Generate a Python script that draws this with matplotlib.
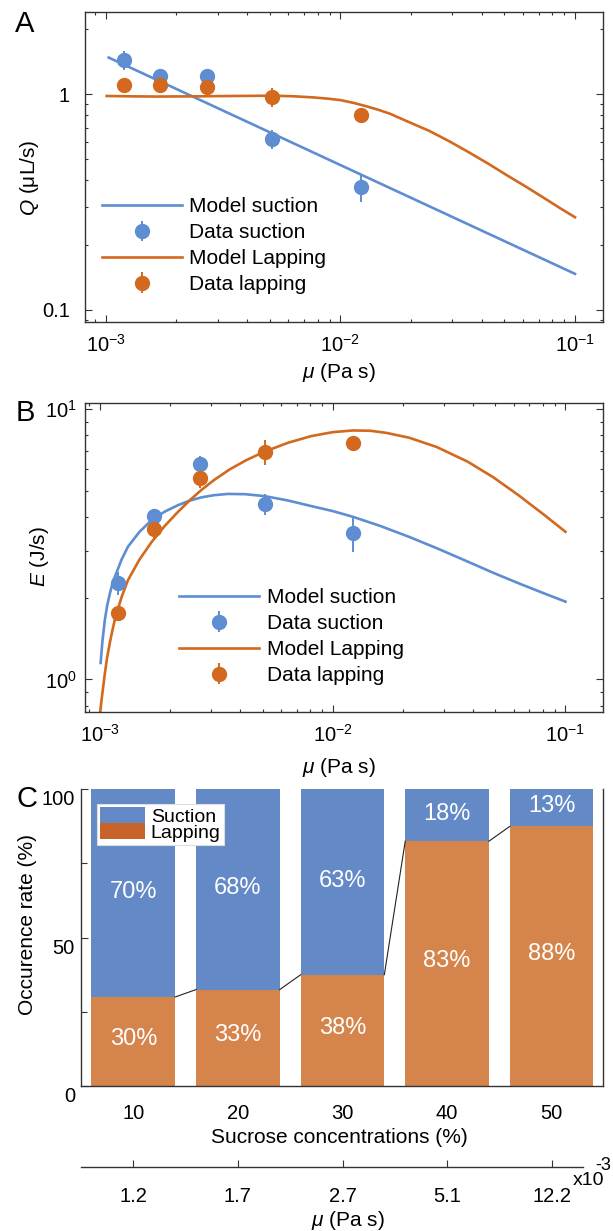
import matplotlib
matplotlib.use("Agg")
import matplotlib.pyplot as plt
import matplotlib.transforms as mtransforms
from matplotlib.patches import Patch
from matplotlib.ticker import NullFormatter, FixedLocator

plt.rcParams['font.family'] = ['Liberation Sans', 'DejaVu Sans']
plt.rcParams['mathtext.fontset'] = 'custom'
plt.rcParams['mathtext.rm'] = 'Liberation Sans'
plt.rcParams['mathtext.it'] = 'Liberation Sans:italic'
plt.rcParams['mathtext.bf'] = 'Liberation Sans:bold'

# ---------------- data ----------------
mu_data = [1.2e-3, 1.7e-3, 2.7e-3, 5.1e-3, 12.2e-3]

# Panel A
Q_suction = [1.44, 1.22, 1.22, 0.62, 0.37]
Q_suction_err = [0.14, 0.05, 0.06, 0.06, 0.055]
Q_lapping = [1.11, 1.10, 1.08, 0.97, 0.80]
Q_lapping_err = [0.03, 0.08, 0.07, 0.10, 0.03]

mu_modelA_suction = [1.03e-3, 0.1]
Q_model_suction = [1.48, 0.147]
mu_modelA_lapping = [1.01e-3, 1.3e-3, 1.63e-3, 2.3e-3, 3.52e-3, 5.16e-3, 6.3e-3, 7.57e-3,
                     8.8e-3, 1.0e-2, 1.14e-2, 1.29e-2, 1.45e-2, 1.63e-2, 1.95e-2, 2.39e-2,
                     2.9e-2, 3.51e-2, 4.25e-2, 5.15e-2, 6.25e-2, 7.56e-2, 8.7e-2, 0.1]
Q_model_lapping = [0.982, 0.978, 0.976, 0.978, 0.982, 0.985, 0.979, 0.968,
                   0.955, 0.940, 0.912, 0.880, 0.848, 0.812, 0.745, 0.677,
                   0.607, 0.540, 0.478, 0.420, 0.370, 0.325, 0.295, 0.269]

# Panel B
E_suction = [2.27, 4.02, 6.27, 4.46, 3.49]
E_suction_err = [0.22, 0.26, 0.42, 0.40, 0.53]
E_lapping = [1.76, 3.60, 5.58, 6.97, 7.52]
E_lapping_err = [0.08, 0.30, 0.47, 0.74, 0.45]

mu_modelB_suction = [1.007e-3, 1.025e-3, 1.05e-3, 1.075e-3, 1.104e-3, 1.13e-3, 1.16e-3,
                     1.24e-3, 1.32e-3, 1.48e-3, 1.67e-3, 1.9e-3, 2.17e-3, 2.45e-3, 2.73e-3,
                     3.1e-3, 3.55e-3, 4.2e-3, 5.1e-3, 6.4e-3, 8.1e-3, 1.0e-2, 1.22e-2,
                     1.6e-2, 2.13e-2, 2.85e-2, 3.8e-2, 4.9e-2, 6.28e-2, 8.0e-2, 0.1]
E_model_suction = [1.15, 1.38, 1.66, 1.88, 2.08, 2.25, 2.40,
                   2.78, 3.10, 3.52, 3.89, 4.18, 4.42, 4.60, 4.72,
                   4.81, 4.86, 4.85, 4.77, 4.60, 4.38, 4.20, 4.00,
                   3.70, 3.37, 3.04, 2.73, 2.48, 2.27, 2.09, 1.94]
mu_modelB_lapping = [1.0e-3, 1.02e-3, 1.05e-3, 1.075e-3, 1.104e-3, 1.13e-3, 1.16e-3,
                     1.24e-3, 1.32e-3, 1.48e-3, 1.67e-3, 1.9e-3, 2.17e-3, 2.45e-3, 2.73e-3,
                     3.1e-3, 3.61e-3, 4.25e-3, 5.06e-3, 6.4e-3, 8.1e-3, 1.0e-2, 1.22e-2,
                     1.45e-2, 1.7e-2, 2.13e-2, 2.8e-2, 3.8e-2, 4.9e-2, 6.28e-2, 8.0e-2, 0.1]
E_model_lapping = [0.74, 0.86, 1.05, 1.21, 1.37, 1.51, 1.67,
                   2.02, 2.33, 2.78, 3.23, 3.70, 4.18, 4.63, 5.03,
                   5.48, 5.99, 6.48, 6.95, 7.51, 7.96, 8.23, 8.35,
                   8.33, 8.18, 7.85, 7.25, 6.40, 5.60, 4.81, 4.10, 3.52]

# Panel C
concentrations = [10, 20, 30, 40, 50]
lapping_rate = [30, 32.5, 37.5, 82.5, 87.5]
suction_rate = [70, 67.5, 62.5, 17.5, 12.5]
suction_labels = ['70%', '68%', '63%', '18%', '13%']
lapping_labels = ['30%', '33%', '38%', '83%', '88%']
mu_tick_labels = ['1.2', '1.7', '2.7', '5.1', '12.2']

# ---------------- style ----------------
BLUE = '#5E8DD2'
ORANGE = '#D2691E'
BAR_BLUE = '#6389C6'
BAR_ORANGE = '#D5854B'
LEG_ORANGE = '#C8642A'
SPINE = '#333333'
FS_TICK = 14.5
FS_LAB = 15
W, H = 613, 1231

fig = plt.figure(figsize=(W / 100, H / 100), dpi=100)


def rect(l, r, t, b):
    return [l / W, (H - b) / H, (r - l) / W, (b - t) / H]


def style_log_axes(ax):
    for s in ax.spines.values():
        s.set_color(SPINE)
        s.set_linewidth(1.0)
    ax.tick_params(which='both', direction='in', top=True, right=True, colors=SPINE,
                   labelcolor='black', labelsize=FS_TICK)
    ax.tick_params(which='major', length=4.8, width=0.8)
    ax.tick_params(which='minor', length=2.4, width=0.8)
    ax.xaxis.set_minor_formatter(NullFormatter())
    ax.yaxis.set_minor_formatter(NullFormatter())


def draw_fit_panel(ax, mu_s, y_s, mu_l, y_l, ys, ys_err, yl, yl_err):
    h1, = ax.plot(mu_s, y_s, color=BLUE, lw=1.9, solid_joinstyle='round')
    h2 = ax.errorbar(mu_data, ys, yerr=ys_err, fmt='o', color=BLUE, ms=10,
                     elinewidth=1.4, capsize=0, zorder=3)
    h3, = ax.plot(mu_l, y_l, color=ORANGE, lw=1.9, solid_joinstyle='round')
    h4 = ax.errorbar(mu_data, yl, yerr=yl_err, fmt='o', color=ORANGE, ms=10,
                     elinewidth=1.4, capsize=0, zorder=3)
    return [h1, h2, h3, h4]


leg_labels = ['Model suction', 'Data suction', 'Model Lapping', 'Data lapping']
xt_labels = [r'$\mathregular{10^{-3}}$', r'$\mathregular{10^{-2}}$', r'$\mathregular{10^{-1}}$']

# ---------------- Panel A ----------------
axA = fig.add_axes(rect(85, 602.7, 11.7, 321.7))
axA.set_xscale('log')
axA.set_yscale('log')
hA = draw_fit_panel(axA, mu_modelA_suction, Q_model_suction, mu_modelA_lapping,
                    Q_model_lapping, Q_suction, Q_suction_err, Q_lapping, Q_lapping_err)
axA.set_xlim(10 ** -3.088, 10 ** -0.882)
axA.set_ylim(0.0882, 2.415)
style_log_axes(axA)
axA.set_xticks([1e-3, 1e-2, 1e-1], labels=xt_labels)
axA.set_yticks([0.1, 1], labels=['0.1', '1'])
axA.tick_params(axis='x', which='major', pad=9)
axA.tick_params(axis='y', which='major', pad=11)
axA.set_xlabel(r'$\mu$ (Pa s)', fontsize=FS_LAB)
axA.xaxis.set_label_coords(0.49, -0.165)
axA.xaxis.label.set_va('center')
axA.set_ylabel(r'$Q$ (μL/s)', fontsize=FS_LAB)
axA.yaxis.set_label_coords(-0.108, 0.465)
axA.yaxis.label.set_va('center')
axA.legend(hA, leg_labels, loc='center left', bbox_to_anchor=(0.032, 0.245), frameon=False,
           fontsize=FS_LAB, handlelength=3.85, handletextpad=0.36,
           labelspacing=0.33, borderpad=0, borderaxespad=0)

# ---------------- Panel B ----------------
axB = fig.add_axes(rect(85, 602.7, 402.7, 711.7))
axB.set_xscale('log')
axB.set_yscale('log')
hB = draw_fit_panel(axB, mu_modelB_suction, E_model_suction, mu_modelB_lapping,
                    E_model_lapping, E_suction, E_suction_err, E_lapping, E_lapping_err)
axB.set_xlim(10 ** -3.064, 10 ** -0.84)
axB.set_ylim(0.759, 10.58)
style_log_axes(axB)
axB.set_xticks([1e-3, 1e-2, 1e-1], labels=xt_labels)
axB.set_yticks([1, 10], labels=[r'$\mathregular{10^{0}}$', r'$\mathregular{10^{1}}$'])
axB.tick_params(axis='x', which='major', pad=9)
axB.tick_params(axis='y', which='major', pad=6)
axB.set_xlabel(r'$\mu$ (Pa s)', fontsize=FS_LAB)
axB.xaxis.set_label_coords(0.49, -0.182)
axB.xaxis.label.set_va('center')
axB.set_ylabel(r'$E$ (J/s)', fontsize=FS_LAB)
axB.yaxis.set_label_coords(-0.087, 0.502)
axB.yaxis.label.set_va('center')
axB.legend(hB, leg_labels, loc='center left', bbox_to_anchor=(0.182, 0.243), frameon=False,
           fontsize=FS_LAB, handlelength=3.85, handletextpad=0.36,
           labelspacing=0.33, borderpad=0, borderaxespad=0)

# ---------------- Panel C ----------------
axC = fig.add_axes(rect(80.7, 602.7, 789.3, 1086))
bw = 8
axC.bar(concentrations, lapping_rate, width=bw, color=BAR_ORANGE, zorder=2)
axC.bar(concentrations, suction_rate, bottom=lapping_rate, width=bw, color=BAR_BLUE, zorder=2)
for i in range(len(concentrations) - 1):
    axC.plot([concentrations[i] + bw / 2, concentrations[i + 1] - bw / 2],
             [lapping_rate[i], lapping_rate[i + 1]], color='#222222', lw=0.8, zorder=3)
for i, c in enumerate(concentrations):
    axC.text(c, lapping_rate[i] / 2 + 0.8, lapping_labels[i], color='white', fontsize=17,
             ha='center', va='center', zorder=4)
    axC.text(c, lapping_rate[i] + suction_rate[i] / 2 + 0.5, suction_labels[i], color='white',
             fontsize=17, ha='center', va='center', zorder=4)
axC.set_xlim(4.97, 54.88)
axC.set_ylim(0, 100)
axC.spines['top'].set_visible(False)
for s in ['left', 'bottom', 'right']:
    axC.spines[s].set_color(SPINE)
    axC.spines[s].set_linewidth(1.0)
axC.set_xticks(concentrations, labels=[str(c) for c in concentrations])
axC.set_yticks([0, 50, 100], labels=[])
axC.yaxis.set_minor_locator(FixedLocator([25, 75]))
axC.tick_params(which='both', direction='in', colors=SPINE, labelcolor='black',
                labelsize=FS_TICK, right=False, top=False)
axC.tick_params(which='major', length=5, width=0.8)
axC.tick_params(which='minor', length=4, width=0.8)
axC.tick_params(axis='x', pad=13)
offset = mtransforms.ScaledTranslation(0, -10.5 / 100, fig.dpi_scale_trans)
for v in [0, 50, 100]:
    axC.text(-0.011, v, str(v), transform=axC.get_yaxis_transform() + offset,
             ha='right', va='center', fontsize=FS_TICK)
axC.set_xlabel('Sucrose concentrations (%)', fontsize=FS_LAB)
axC.xaxis.set_label_coords(0.496, -0.175)
axC.xaxis.label.set_va('center')
axC.set_ylabel('Occurence rate (%)', fontsize=FS_LAB)
axC.yaxis.set_label_coords(-0.102, 0.543)
axC.yaxis.label.set_va('center')
handles = [Patch(facecolor=BAR_BLUE, edgecolor='none'),
           Patch(facecolor=LEG_ORANGE, edgecolor='none')]
legC = axC.legend(handles, ['Suction', 'Lapping'], loc='upper left',
                  bbox_to_anchor=(0.0307, 0.9505), fontsize=14, frameon=True,
                  fancybox=False, framealpha=1, edgecolor='#DDDDDD',
                  handlelength=2.3, handleheight=0.85, handletextpad=0.3,
                  labelspacing=-0.15, borderpad=0.18, borderaxespad=0)
legC.get_frame().set_linewidth(0.8)
legC.set_zorder(5)

# secondary viscosity axis
axC2 = fig.add_axes(rect(80.7, 582.7, 1157.3, 1167.3))
axC2.set_xlim(4.97, 4.97 + 502 / 10.46)
axC2.set_ylim(0, 1)
for s in ['top', 'left', 'right']:
    axC2.spines[s].set_visible(False)
axC2.spines['bottom'].set_color(SPINE)
axC2.spines['bottom'].set_linewidth(1.0)
axC2.patch.set_visible(False)
axC2.set_yticks([])
axC2.set_xticks(concentrations, labels=mu_tick_labels)
axC2.tick_params(axis='x', direction='in', length=5, width=0.8, colors=SPINE,
                 labelcolor='black', labelsize=FS_TICK, pad=14)
axC2.set_xlabel(r'$\mu$ (Pa s)', fontsize=FS_LAB)
axC2.xaxis.set_label_coords(0.532, (1167.3 - 1220) / 10)
axC2.xaxis.label.set_va('center')
fig.text(573 / W, 1 - 1180.7 / H, 'x10', fontsize=14, ha='left', va='center')
fig.text(611.5 / W, 1 - 1165 / H, '-3', fontsize=13, ha='right', va='center')

# panel letters
fig.text(24.5 / W, 1 - 24 / H, 'A', fontsize=21, ha='center', va='center')
fig.text(25.5 / W, 1 - 413 / H, 'B', fontsize=21, ha='center', va='center')
fig.text(27 / W, 1 - 799 / H, 'C', fontsize=21, ha='center', va='center')

fig.savefig('out.png', dpi=100)
